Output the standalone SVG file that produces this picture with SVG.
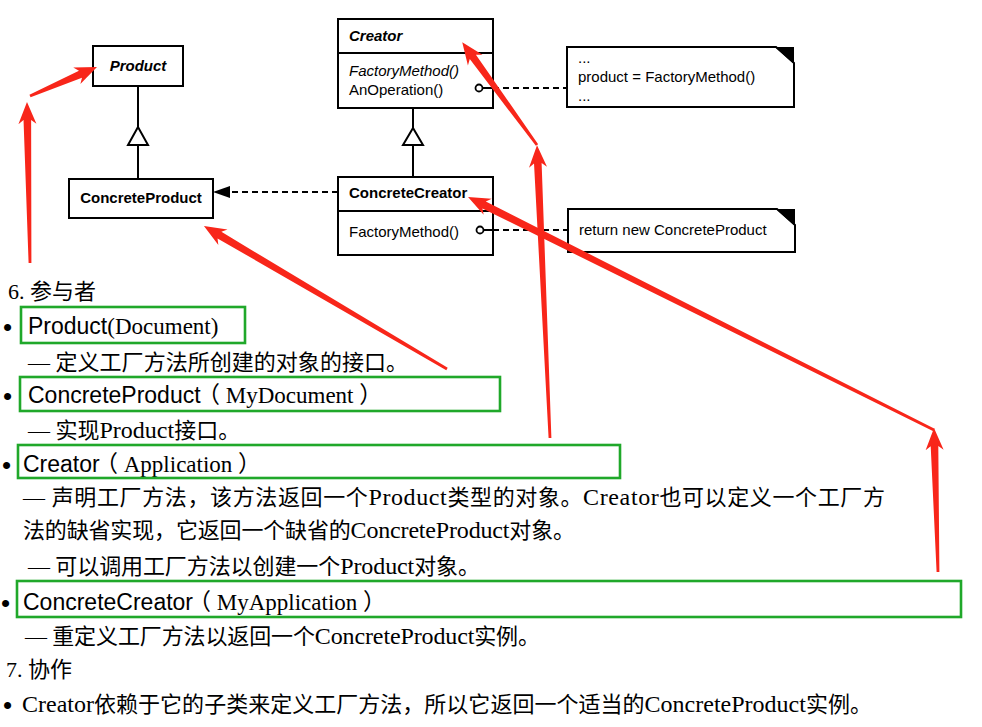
<svg xmlns="http://www.w3.org/2000/svg" width="982" height="727" viewBox="0 0 982 727">
<style>
.box{fill:#fff;stroke:#000;stroke-width:2}
.ln{fill:none;stroke:#000;stroke-width:2}
.dash{fill:none;stroke:#000;stroke-width:1.8;stroke-dasharray:6 4}
.tri{fill:#fff;stroke:#000;stroke-width:2}
.d{font-family:"Liberation Sans",Arial,sans-serif;font-size:15px;fill:#000}
.b{font-weight:bold}
.i{font-style:italic}
.t{font-family:"Liberation Serif","Noto Sans CJK SC",serif;font-size:22px;fill:#000}
.lt{font-size:24px}
.bu{font-family:"Liberation Sans",sans-serif;font-size:26px;fill:#000}
.s{font-family:"Liberation Sans","Noto Sans CJK SC",sans-serif;font-size:23px}
.sr{font-family:"Liberation Serif","Noto Sans CJK SC",serif;font-size:23px}
.g{fill:none;stroke:#20a82a;stroke-width:2.6}
.r{fill:#f8261a}
</style>
<rect width="982" height="727" fill="#fff"/>

<g id="product">
<rect class="box" x="93" y="46" width="90" height="40"/>
<text class="d b i" x="138" y="71" text-anchor="middle">Product</text>
</g>
<g id="concrete-product">
<rect class="box" x="69" y="179" width="144" height="39"/>
<text class="d b" x="141" y="203" text-anchor="middle">ConcreteProduct</text>
</g>
<g id="creator">
<rect class="box" x="338" y="19" width="155" height="89"/>
<line class="ln" x1="338" y1="53" x2="493" y2="53"/>
<text class="d b i" x="349" y="41">Creator</text>
<text class="d i" x="349" y="76">FactoryMethod()</text>
<text class="d" x="349" y="95">AnOperation()</text>
</g>
<g id="concrete-creator">
<rect class="box" x="338" y="177" width="155" height="78"/>
<line class="ln" x1="338" y1="211" x2="493" y2="211"/>
<text class="d b" x="349" y="198">ConcreteCreator</text>
<text class="d" x="349" y="237">FactoryMethod()</text>
</g>
<g id="note-anoperation">
<path class="box" d="M567,47 H776 L794,63 V107 H567 Z"/>
<polygon points="775,47 794,47 794,64" fill="#000"/>
<polygon points="777,50 779,60 789,61" fill="#fff"/>
<text class="d" x="578" y="63">...</text>
<text class="d" x="578" y="82">product = FactoryMethod()</text>
<text class="d" x="578" y="101">...</text>
</g>
<g id="note-factorymethod">
<path class="box" d="M568,209 H777 L795,225 V252 H568 Z"/>
<polygon points="776,209 795,209 795,226" fill="#000"/>
<polygon points="778,212 780,222 790,223" fill="#fff"/>
<text class="d" x="579" y="235">return new ConcreteProduct</text>
</g>

<g id="connectors">
<line class="ln" x1="138" y1="86" x2="138" y2="127"/>
<polygon class="tri" points="138,127 128,145 148,145"/>
<line class="ln" x1="138" y1="145" x2="138" y2="179"/>
<line class="ln" x1="413" y1="108" x2="413" y2="128"/>
<polygon class="tri" points="413,128 403,145 423,145"/>
<line class="ln" x1="413" y1="145" x2="413" y2="177"/>
<line class="dash" x1="338" y1="192" x2="230" y2="192"/>
<polygon points="213,192 230,186 230,198" fill="#000"/>
<circle cx="479" cy="88" r="3.5" fill="#fff" stroke="#000" stroke-width="1.8"/>
<line class="ln" x1="482.5" y1="88" x2="493" y2="88"/>
<line class="dash" x1="493" y1="88" x2="567" y2="88"/>
<circle cx="480" cy="230" r="3.5" fill="#fff" stroke="#000" stroke-width="1.8"/>
<line class="ln" x1="483.5" y1="230" x2="493" y2="230"/>
<line class="dash" x1="493" y1="230" x2="568" y2="230"/>
</g>

<g id="text">
<text class="t" x="8" y="299" font-size="21">6. 参与者</text>
<text class="bu" x="3" y="336">•</text>
<text class="t" x="28" y="334"><tspan class="s">Product</tspan><tspan class="sr">(Document)</tspan></text>
<text class="t" x="28" y="370" textLength="380" lengthAdjust="spacing">— 定义工厂方法所创建的对象的接口。</text>
<text class="bu" x="3" y="405">•</text>
<text class="t" x="28" y="403"><tspan class="s">ConcreteProduct</tspan><tspan class="sr" x="197">（ MyDocument ）</tspan></text>
<text class="t" x="28" y="438">— 实现<tspan class="lt">Product</tspan>接口。</text>
<text class="bu" x="2" y="474">•</text>
<text class="t" x="23" y="472"><tspan class="s">Creator</tspan><tspan class="sr" x="95">（ Application ）</tspan></text>
<text class="t" x="23" y="505" textLength="862" lengthAdjust="spacing">— 声明工厂方法，该方法返回一个<tspan class="lt">Product</tspan>类型的对象。<tspan class="lt">Creator</tspan>也可以定义一个工厂方</text>
<text class="t" x="23" y="538" textLength="552" lengthAdjust="spacing">法的缺省实现，它返回一个缺省的<tspan class="lt">ConcreteProduct</tspan>对象。</text>
<text class="t" x="28" y="574" textLength="452" lengthAdjust="spacing">— 可以调用工厂方法以创建一个<tspan class="lt">Product</tspan>对象。</text>
<text class="bu" x="1" y="612">•</text>
<text class="t" x="23" y="610"><tspan class="s">ConcreteCreator</tspan><tspan class="sr" x="188">（ MyApplication ）</tspan></text>
<text class="t" x="25" y="644" textLength="515" lengthAdjust="spacing">— 重定义工厂方法以返回一个<tspan class="lt">ConcreteProduct</tspan>实例。</text>
<text class="t" x="6" y="677" font-size="21">7. 协作</text>
<text class="bu" x="3" y="714">•</text>
<text class="t" x="22" y="712" textLength="850" lengthAdjust="spacing"><tspan class="lt">Creator</tspan>依赖于它的子类来定义工厂方法，所以它返回一个适当的<tspan class="lt">ConcreteProduct</tspan>实例。</text>
</g>

<g id="highlights">
<rect class="g" x="21" y="307" width="224" height="36"/>
<rect class="g" x="20" y="377" width="480" height="34"/>
<rect class="g" x="18" y="445" width="602" height="33"/>
<rect class="g" x="17" y="581" width="944" height="36"/>
</g>

<g id="annotation-arrows" class="r">
<path transform="translate(30,263) rotate(-91.07)" d="M0,-1.4 L143,-3.8 L139,-9 L161,0 L139,9 L143,3.8 L0,1.4 Z"/>
<path transform="translate(30,96) rotate(-23.4)" d="M0,-1.4 L55,-3.8 L51,-9 L73,0 L51,9 L55,3.8 L0,1.4 Z"/>
<path transform="translate(447,369) rotate(-149.53)" d="M0,-1.4 L264,-3.8 L260,-9 L282,0 L260,9 L264,3.8 L0,1.4 Z"/>
<path transform="translate(550,438) rotate(-92.54)" d="M0,-1.4 L275,-3.8 L271,-9 L293,0 L271,9 L275,3.8 L0,1.4 Z"/>
<path transform="translate(537,145) rotate(-126.06)" d="M0,-1.4 L109,-3.8 L105,-9 L127,0 L105,9 L109,3.8 L0,1.4 Z"/>
<path transform="translate(938,572) rotate(-91.59)" d="M0,-1.4 L126,-3.8 L122,-9 L144,0 L122,9 L126,3.8 L0,1.4 Z"/>
<path transform="translate(934,430) rotate(-153.43)" d="M0,-1.4 L503,-3.8 L499,-9 L521,0 L499,9 L503,3.8 L0,1.4 Z"/>
</g>
</svg>
